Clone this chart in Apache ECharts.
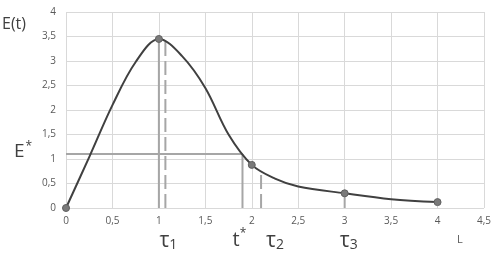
<!DOCTYPE html>
<html><head><meta charset="utf-8">
<script src="https://cdn.jsdelivr.net/npm/echarts@6/dist/echarts.min.js"></script>
<style>html,body{margin:0;padding:0;background:#fff}#c{width:501px;height:261px}</style>
</head><body><div id="c"></div>
<script>
// data: marked points
const tValues = [0, 1, 2, 3, 4];
const eValues = [0, 3.45, 0.88, 0.3, 0.12];
// curve shape
const curveT = [0, 0.25, 0.5, 0.75, 1, 1.25, 1.5, 1.75, 2, 2.25, 2.5, 3, 3.5, 4];
const curveE = [0, 1.04, 2.1, 2.98, 3.45, 3.1, 2.45, 1.5, 0.88, 0.6, 0.44, 0.3, 0.18, 0.12];
const xTickLabels = ['0','0,5','1','1,5','2','2,5','3','3,5','4','4,5'];
const yTickLabels = ['0','0,5','1','1,5','2','2,5','3','3,5','4'];
// reference lines: [x, yTop]
const solidVerticals = [[1, 3.45], [1.9, 1.1], [3, 0.3]];
const dashedVerticals = [[1.07, 3.43], [2.1, 0.71]];
const eStar = 1.1, tStar = 1.9;
const markLabels = [
  {x: 1.07, main: 'τ', sub: '1', dx: 3},
  {x: 1.9, main: 't', sup: '*', dx: -3},
  {x: 2.1, main: 'τ', sub: '2', dx: 14},
  {x: 3, main: 'τ', sub: '3', dx: 4}
];

const chart = echarts.init(document.getElementById('c'), null, {renderer: 'canvas'});
const font = 'Open Sans, Liberation Sans, sans-serif';
const refColor = '#a6a6a6';
const series = [];
solidVerticals.forEach(v => series.push({
  type: 'line', data: [[v[0], 0], [v[0], v[1]]], symbol: 'none', silent: true,
  lineStyle: {color: refColor, width: 2}, z: 2
}));
dashedVerticals.forEach(v => series.push({
  type: 'line', data: [[v[0], 0], [v[0], v[1]]], symbol: 'none', silent: true,
  lineStyle: {color: refColor, width: 2, type: [14, 5]}, z: 2
}));
series.push({
  type: 'line', data: [[0, eStar], [tStar, eStar]], symbol: 'none', silent: true,
  lineStyle: {color: refColor, width: 2}, z: 2
});
series.push({
  type: 'line', data: curveT.map((t, i) => [t, curveE[i]]),
  smooth: 0.35, symbol: 'none',
  lineStyle: {color: '#404040', width: 2}, z: 5
});
series.push({
  type: 'scatter', data: tValues.map((t, i) => [t, eValues[i]]),
  symbol: 'circle', symbolSize: 7,
  itemStyle: {color: '#7a7a7a', borderColor: '#606060', borderWidth: 1, opacity: 1}, z: 6
});

chart.setOption({
  animation: false,
  grid: {left: 66, right: 17, top: 12, bottom: 53, containLabel: false},
  xAxis: {
    type: 'value', min: 0, max: 4.5, interval: 0.5,
    axisLine: {show: false}, axisTick: {show: false},
    axisLabel: {color: '#595959', fontSize: 10, fontFamily: font, margin: 8,
      formatter: v => xTickLabels[Math.round(v / 0.5)]},
    splitLine: {show: true, lineStyle: {color: '#d9d9d9', width: 1}}
  },
  yAxis: {
    type: 'value', min: 0, max: 4, interval: 0.5,
    axisLine: {show: false}, axisTick: {show: false},
    axisLabel: {color: '#595959', fontSize: 10, fontFamily: font, margin: 10,
      formatter: v => yTickLabels[Math.round(v / 0.5)]},
    splitLine: {show: true, lineStyle: {color: '#d9d9d9', width: 1}}
  },
  series: series
});

const graphics = [];
graphics.push({type: 'text', left: 2, top: 16, style: {text: 'E(t)', font: '16px ' + font, fill: '#404040'}});
graphics.push({type: 'text', left: 14, top: 141, style: {
  text: '{m|E}{s|*}', fill: '#404040',
  rich: {m: {font: '19px ' + font, fill: '#404040'}, s: {font: '12px ' + font, fill: '#404040', verticalAlign: 'top', padding: [0,0,10,1]}}
}});
graphics.push({type: 'text', left: 457, top: 234, style: {text: 'L', font: '11px ' + font, fill: '#595959'}});
markLabels.forEach(l => {
  const px = chart.convertToPixel({gridIndex: 0}, [l.x, 0])[0] + l.dx;
  let text;
  if (l.sub) {
    text = '{m|' + l.main + '}{s|' + l.sub + '}';
  } else {
    text = '{t|' + l.main + '}{p|' + l.sup + '}';
  }
  graphics.push({type: 'text', x: px, y: 252, style: {
    text: text, align: 'center', verticalAlign: 'bottom',
    rich: {
      m: {font: '21px ' + font, fill: '#404040'},
      s: {font: '14px ' + font, fill: '#404040', padding: [8, 0, 0, 0]},
      t: {font: '20px ' + font, fill: '#404040'},
      p: {font: '12px ' + font, fill: '#404040', padding: [0, 0, 12, 0]}
    }
  }});
});
chart.setOption({graphic: graphics});
</script></body></html>
